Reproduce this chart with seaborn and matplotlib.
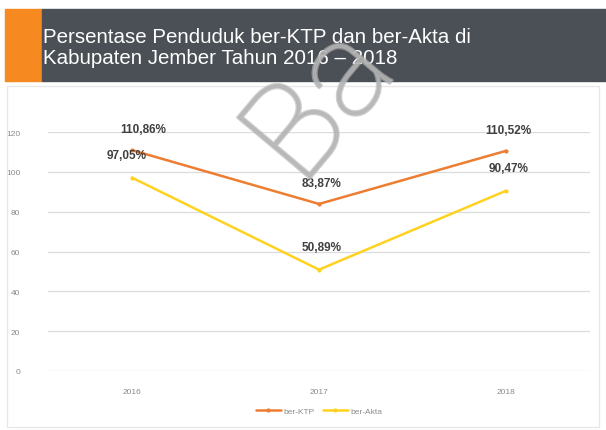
import pandas as pd
import seaborn as sns
from matplotlib import pyplot as plt
from matplotlib import patheffects as pe
from matplotlib.patches import Rectangle

years = ['2016', '2017', '2018']
ktp = [110.86, 83.87, 110.52]
akta = [97.05, 50.89, 90.47]
series_names = ['ber-KTP', 'ber-Akta']
y_ticks = [0, 20, 40, 60, 80, 100, 120]
title = 'Persentase Penduduk ber-KTP dan ber-Akta di\nKabupaten Jember Tahun 2016 – 2018'

if __name__ == '__main__':
    sns.set_style('white')
    plt.rcParams['font.family'] = ['Liberation Sans', 'DejaVu Sans']

    data = pd.DataFrame({
        'year': years * 2,
        'value': ktp + akta,
        'series': [series_names[0]] * 3 + [series_names[1]] * 3,
    })
    colors = {'ber-KTP': '#ed7d31', 'ber-Akta': '#ffd21f'}

    fig = plt.figure(figsize=(6.06, 4.31), dpi=100)
    W, H = 606, 431

    # header band
    fig.patches.append(Rectangle((5 / W, 1 - 82 / H), 37 / W, 72 / H,
                                 transform=fig.transFigure, color='#f6891f', zorder=0))
    fig.patches.append(Rectangle((42 / W, 1 - 82 / H), 564 / W, 72 / H,
                                 transform=fig.transFigure, color='#4a5056', zorder=0))
    fig.text(43 / W, 1 - 48 / H, title, color='white', fontsize=14.8,
             va='center', ha='left', linespacing=1.1)
    # chart frame
    fig.patches.append(Rectangle((7 / W, 3 / H), 592 / W, (431 - 90) / H,
                                 transform=fig.transFigure, fill=False,
                                 edgecolor='#e8e8e8', lw=1.0, zorder=0))

    ax = fig.add_axes([48 / W, 1 - 372 / H, 542 / W, 239 / H])
    sns.lineplot(data=data, x='year', y='value', hue='series', palette=colors,
                 marker='o', markersize=3, markeredgewidth=0, linewidth=1.8,
                 sort=False, ax=ax)
    ax.set_xlim(-0.45, 2.45)
    ax.set_ylim(0, 120)
    ax.set_yticks(y_ticks)
    ax.grid(axis='y', color='#dcdcdc', lw=0.9)
    ax.set_axisbelow(True)
    for s in ax.spines.values():
        s.set_visible(False)
    ax.tick_params(axis='both', length=0, labelsize=6, colors='#8a8a8a')
    ax.tick_params(axis='y', pad=20)
    ax.tick_params(axis='x', pad=12)
    ax.set_xlabel('')
    ax.set_ylabel('')

    for i, v in enumerate(ktp):
        ax.annotate(f'{v:.2f}%'.replace('.', ','), (i, v), xytext=(8 if i == 0 else 2, 11),
                    textcoords='offset points', ha='center', va='bottom',
                    fontsize=8.5, fontweight='bold', color='#404040', annotation_clip=False)
    for i, v in enumerate(akta):
        ax.annotate(f'{v:.2f}%'.replace('.', ','), (i, v), xytext=(-4 if i == 0 else 2, 12),
                    textcoords='offset points', ha='center', va='bottom',
                    fontsize=8.5, fontweight='bold', color='#404040', annotation_clip=False)

    leg = ax.legend(loc='upper center', bbox_to_anchor=(0.5, -0.12), ncol=2,
                    frameon=False, fontsize=6, handlelength=3, columnspacing=1.0,
                    handletextpad=0.3)
    for t in leg.get_texts():
        t.set_color('#8a8a8a')

    # watermark
    fig.text(322 / W, 1 - 108 / H, 'Ba', fontsize=96, rotation=50, color='#b4b4b4',
             alpha=0.65, ha='center', va='center', family=['Roboto', 'DejaVu Sans'],
             fontweight=100, zorder=10,
             path_effects=[pe.withStroke(linewidth=2, foreground='#b4b4b4')])

    fig.savefig('out.png', dpi=100)
